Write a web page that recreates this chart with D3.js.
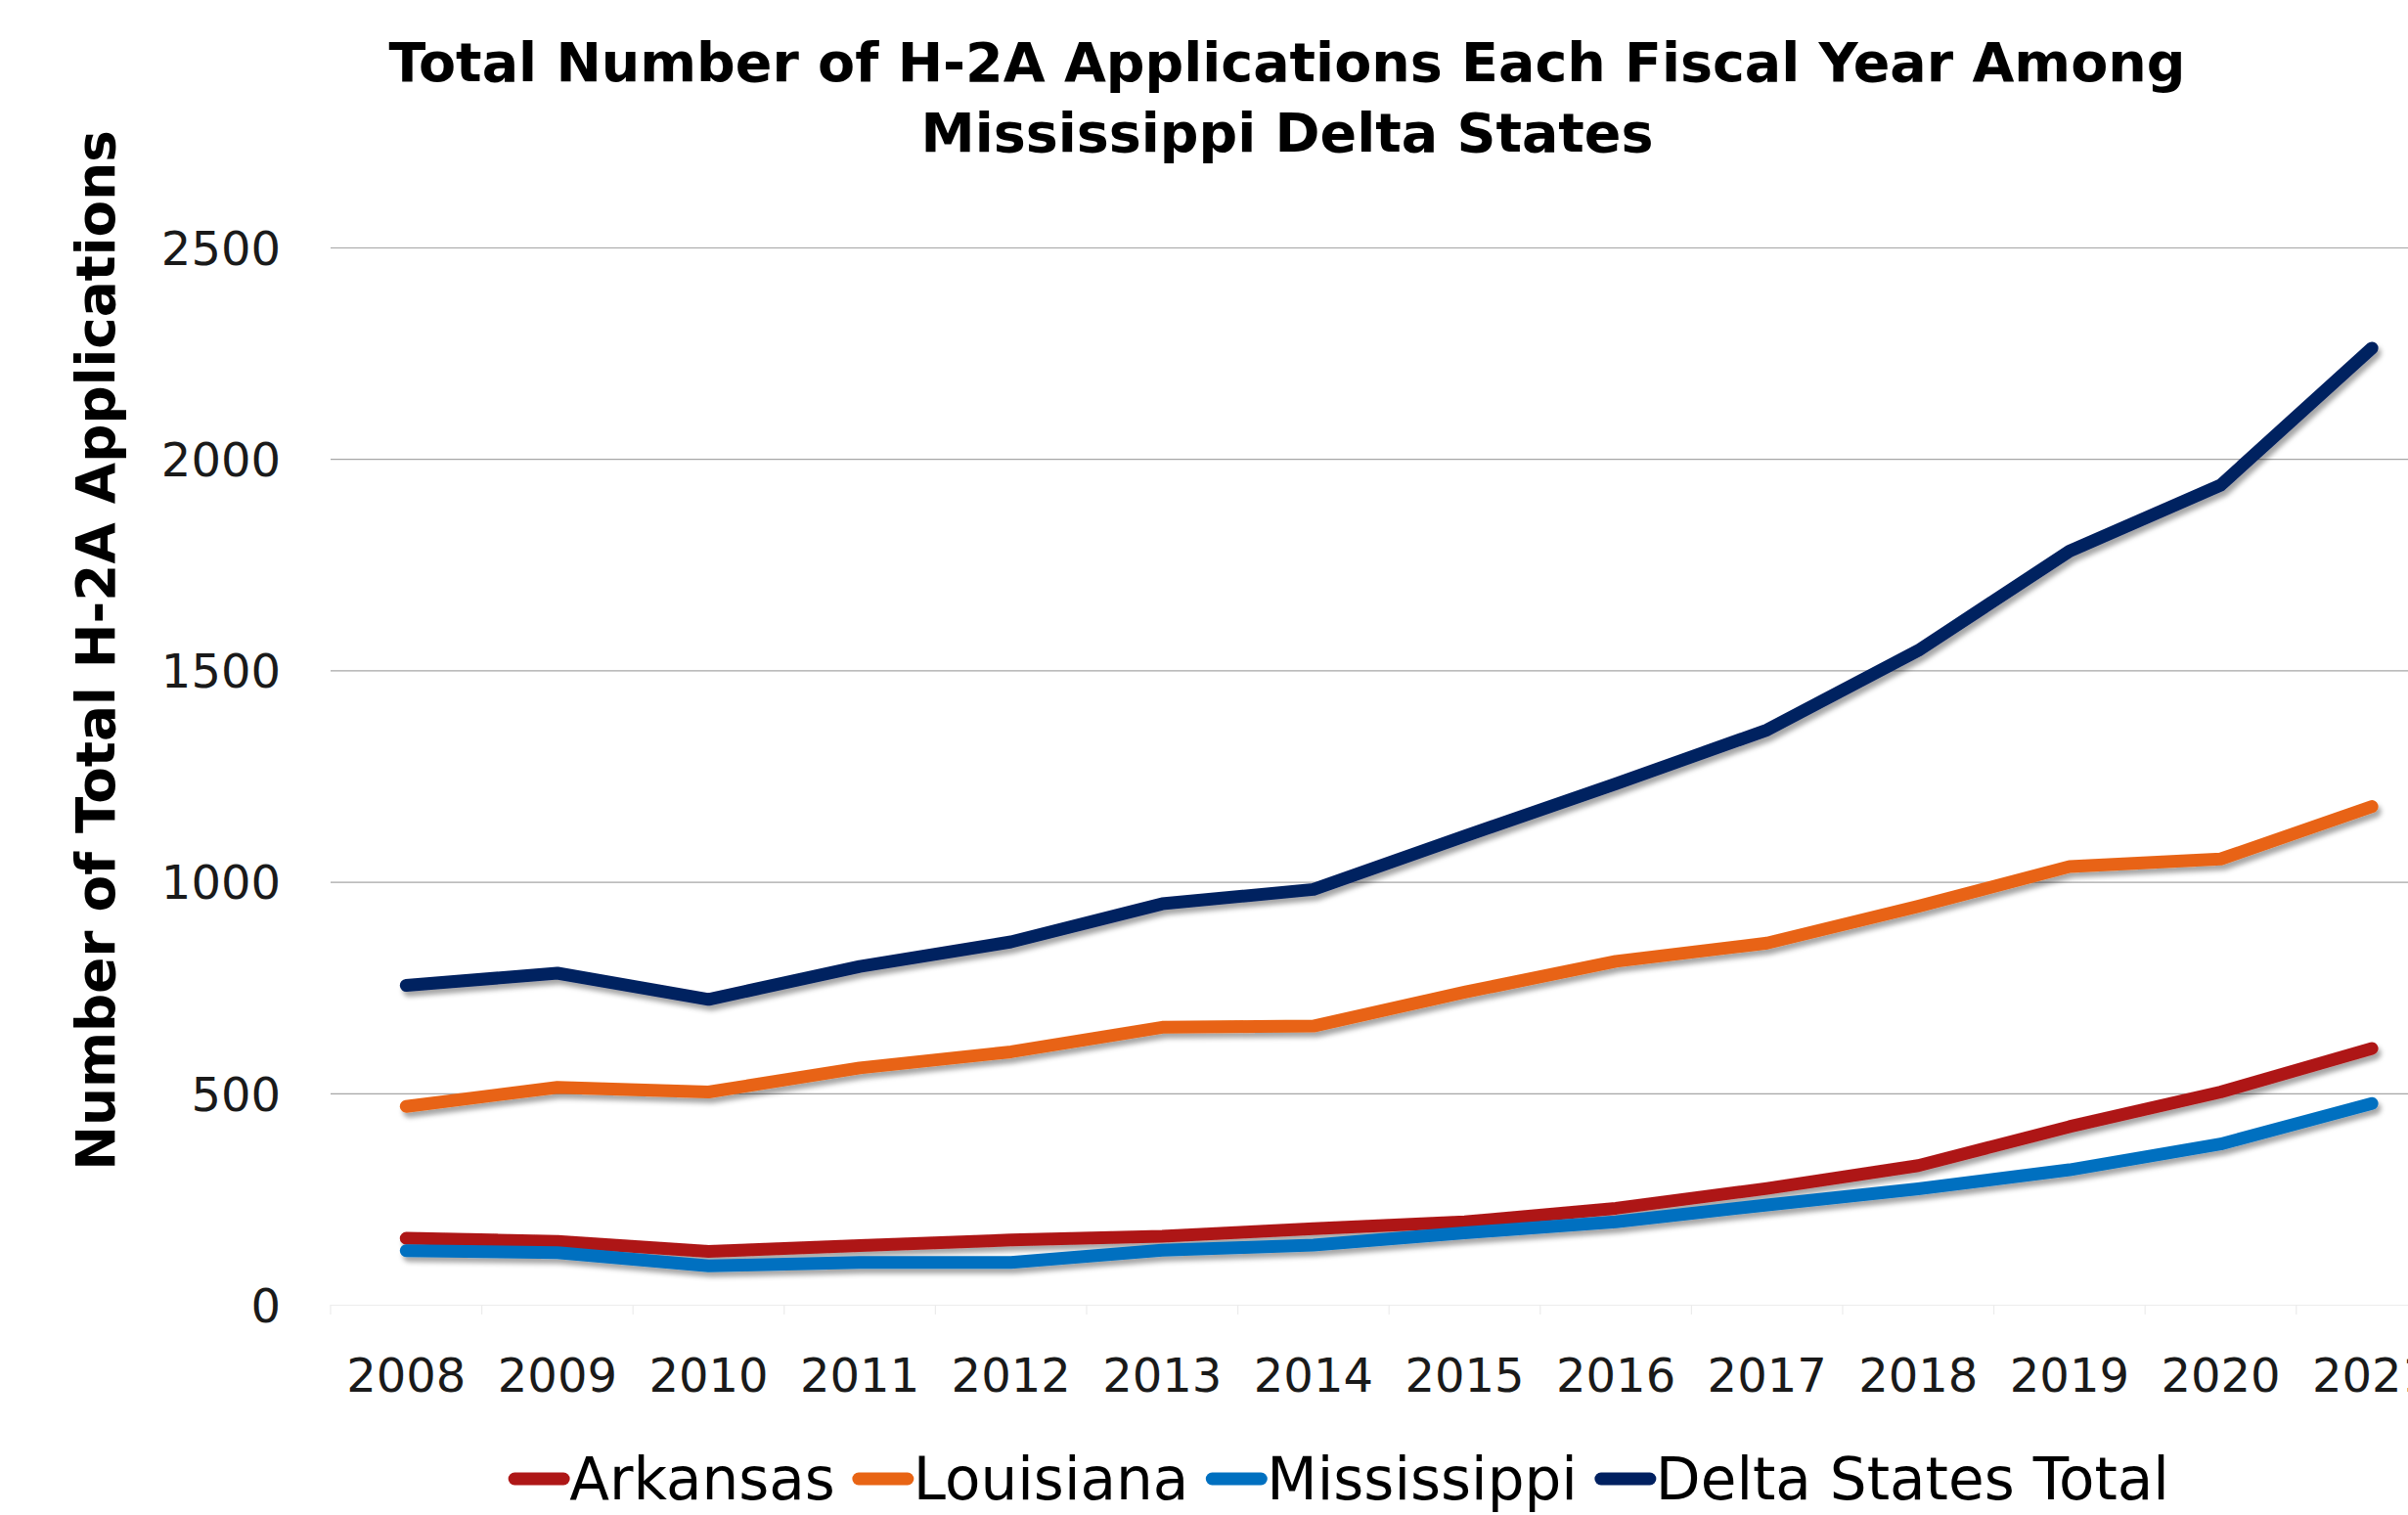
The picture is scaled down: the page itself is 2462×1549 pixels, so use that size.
<!DOCTYPE html>
<html>
<head>
<meta charset="utf-8">
<script src="https://cdn.jsdelivr.net/npm/d3@7"></script>
<style>
  html, body { margin: 0; padding: 0; background: #fff; overflow: hidden; }
  svg { display: block; }
</style>
</head>
<body>
<svg id="chart" width="2462" height="1549"></svg>
<script>
// ---------------- DATA ----------------
const years = ["2008","2009","2010","2011","2012","2013","2014","2015","2016","2017","2018","2019","2020","2021"];
const arkansas    = [157, 150, 126, 140, 153, 162, 180, 196, 228, 275, 329, 421, 503, 606];
const louisiana   = [469, 514, 503, 560, 598, 656, 659, 739, 812, 855, 942, 1036, 1054, 1178];
const mississippi = [128, 123,  92, 100, 100, 129, 141, 170, 196, 236, 274, 319, 380, 476];
const deltaTotal  = [755, 784, 722, 800, 858, 948, 982, 1108, 1232, 1359, 1547, 1782, 1938, 2262];
const seriesNames = ["Arkansas", "Louisiana", "Mississippi", "Delta States Total"];
const seriesColors = ["#AE1717", "#E86414", "#0070C0", "#002060"];
const yTicks = [0, 500, 1000, 1500, 2000, 2500];
const titleLines = ["Total Number of H-2A Applications Each Fiscal Year Among", "Mississippi Delta States"];
const yAxisTitle = "Number of Total H-2A Applications";

const seriesValues = [arkansas, louisiana, mississippi, deltaTotal];

// ---------------- LAYOUT ----------------
const W = 2462, H = 1549;
const plotLeft = 338, bandW = 154.6;
const plotRight = plotLeft + bandW * years.length;
const yTop = 253, yBottom = 1334;
const FONT = "'DejaVu Sans', sans-serif";

const svg = d3.select("#chart");

const defs = svg.append("defs");
const f = defs.append("filter").attr("id", "shadow")
  .attr("x", "-5%").attr("y", "-20%").attr("width", "110%").attr("height", "140%");
f.append("feDropShadow").attr("dx", 3).attr("dy", 5).attr("stdDeviation", 2.5)
  .attr("flood-color", "#000").attr("flood-opacity", 0.35);

const x = d3.scaleBand().domain(years).range([plotLeft, plotRight]);
const xc = d => x(d) + x.bandwidth() / 2;
const y = d3.scaleLinear().domain([0, 2500]).range([yBottom, yTop]);

// gridlines + y tick labels
const yAxis = d3.axisLeft(y).tickValues(yTicks).tickFormat(d3.format("d"))
  .tickSize(-(plotRight - plotLeft)).tickPadding(50);
const gy = svg.append("g").attr("transform", `translate(${plotLeft},0)`).call(yAxis);
gy.select(".domain").remove();
gy.selectAll(".tick line")
  .attr("stroke", d => d === 0 ? "#ececec" : "#a6a6a6")
  .attr("stroke-width", 1.2);
gy.selectAll(".tick text")
  .attr("font-family", FONT).attr("font-size", 48).attr("fill", "#1a1a1a")
  .attr("x", 287 - plotLeft).attr("dy", "0.36em").attr("text-anchor", "end");

// x axis
const xAxis = d3.axisBottom(x).tickSize(0).tickPadding(0);
const gx = svg.append("g").attr("transform", `translate(0,${yBottom})`).call(xAxis);
gx.select(".domain").remove();
gx.selectAll(".tick text")
  .attr("font-family", FONT).attr("font-size", 48).attr("fill", "#1a1a1a")
  .attr("y", 89).attr("dy", 0);
// faint category separators at baseline
svg.append("g").selectAll("line").data(years.concat(["end"])).join("line")
  .attr("x1", (d, i) => plotLeft + i * bandW).attr("x2", (d, i) => plotLeft + i * bandW)
  .attr("y1", yBottom).attr("y2", yBottom + 10)
  .attr("stroke", "#ececec").attr("stroke-width", 1.2);

// lines
const line = d3.line().x((d, i) => xc(years[i])).y(d => y(d));
svg.append("g").selectAll("path").data(seriesValues).join("path")
  .attr("d", d => line(d))
  .attr("fill", "none")
  .attr("stroke", (d, i) => seriesColors[i])
  .attr("stroke-width", 13)
  .attr("stroke-linejoin", "round")
  .attr("stroke-linecap", "round")
  .attr("filter", "url(#shadow)");

// helper to fit text width
function fitText(sel, targetW) {
  const w = sel.node().getComputedTextLength();
  const fs = parseFloat(sel.attr("font-size"));
  sel.attr("font-size", fs * targetW / w);
}

// title
const t1 = svg.append("text").attr("x", 1316).attr("y", 83).attr("text-anchor", "middle")
  .attr("font-family", FONT).attr("font-weight", "bold").attr("font-size", 60).attr("fill", "#000")
  .text(titleLines[0]);
fitText(t1, 1837);
const t2 = svg.append("text").attr("x", 1316).attr("y", 155).attr("text-anchor", "middle")
  .attr("font-family", FONT).attr("font-weight", "bold").attr("font-size", 60).attr("fill", "#000")
  .text(titleLines[1]);
t2.attr("font-size", t1.attr("font-size"));

// y axis title
const yt = svg.append("text")
  .attr("transform", `translate(117,665) rotate(-90)`)
  .attr("text-anchor", "middle")
  .attr("font-family", FONT).attr("font-weight", "bold").attr("font-size", 60).attr("fill", "#000")
  .text(yAxisTitle);
fitText(yt, 1064);

// legend
const legendY = 1512;
const lg = svg.append("g");
const items = lg.selectAll("g").data(seriesNames).join("g");
items.append("line").attr("x1", 0).attr("x2", 50).attr("y1", 0).attr("y2", 0)
  .attr("stroke", (d, i) => seriesColors[i]).attr("stroke-width", 13).attr("stroke-linecap", "round");
items.append("text").attr("x", 56).attr("y", 0).attr("dy", "0.36em")
  .attr("font-family", FONT).attr("font-size", 56).attr("fill", "#000")
  .text(d => d);
const dtText = items.filter(d => d === "Delta States Total").select("text");
fitText(dtText, 525);
items.selectAll("text").attr("font-size", dtText.attr("font-size"));
const gap = 24;
const widths = [];
items.each(function () {
  const tw = d3.select(this).select("text").node().getComputedTextLength();
  widths.push(56 + tw);
});
const total = d3.sum(widths) + gap * (widths.length - 1);
let start = 1366 - total / 2 + 6;
items.attr("transform", (d, i) => {
  const tx = start;
  start += widths[i] + gap;
  return `translate(${tx},${legendY})`;
});
</script>
</body>
</html>
